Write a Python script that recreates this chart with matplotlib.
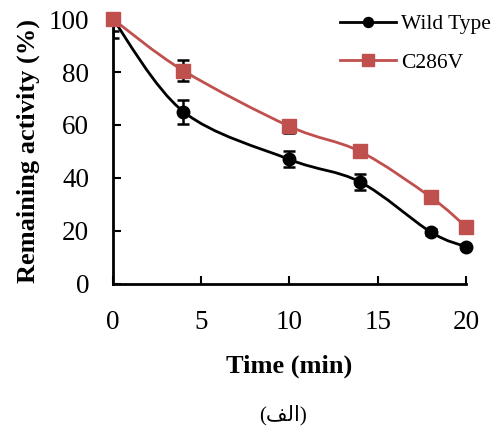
import numpy as np
import matplotlib.pyplot as plt
from matplotlib.path import Path
from matplotlib.patches import PathPatch

time_min = [0, 4, 10, 14, 18, 20]
wild_type = [100, 65, 47, 38.5, 19.6, 14]
wild_err = [7, 4.5, 3, 3, 1, 1]
c286v = [100, 80.5, 59.5, 50, 32.8, 21.6]
c286v_err = [4.5, 4, 2.5, 1.5, 1, 1]

red = '#C0504D'
plt.rcParams['font.family'] = ['Liberation Serif', 'DejaVu Sans']


def smooth_path(x, y):
    # excel-like smoothed line as cubic bezier segments (catmull-rom)
    x = np.asarray(x, float)
    y = np.asarray(y, float)
    verts = [(x[0], y[0])]
    codes = [Path.MOVETO]
    n = len(x)
    for i in range(n - 1):
        i0 = max(i - 1, 0)
        i3 = min(i + 2, n - 1)
        c1 = (x[i] + (x[i + 1] - x[i0]) / 6, y[i] + (y[i + 1] - y[i0]) / 6)
        c2 = (x[i + 1] - (x[i3] - x[i]) / 6, y[i + 1] - (y[i3] - y[i]) / 6)
        verts += [c1, c2, (x[i + 1], y[i + 1])]
        codes += [Path.CURVE4] * 3
    return Path(verts, codes)


fig = plt.figure(figsize=(4.93, 4.34), dpi=100)
ax = fig.add_axes([0.229, 0.346, 0.716, 0.610])

for ys, err, col, mk, ms, lab in [(wild_type, wild_err, 'black', 'o', 9, 'Wild Type'),
                                  (c286v, c286v_err, red, 's', 10, 'C286V')]:
    ax.add_patch(PathPatch(smooth_path(time_min, ys), fill=False, edgecolor=col, lw=2,
                           zorder=2, clip_on=False))
    ax.errorbar(time_min, ys, yerr=err, fmt='none', ecolor='black', elinewidth=1.8,
                capsize=4, capthick=1.8, zorder=3)
    ax.plot(time_min, ys, linestyle='none', marker=mk, color=col, markersize=ms,
            zorder=4, clip_on=False)
    ax.plot([], [], color=col, lw=2, marker=mk, markersize=ms * 0.8, label=lab)

ax.set_xlim(0, 20)
ax.set_ylim(0, 100)
ax.set_xticks([0, 5, 10, 15, 20])
ax.set_yticks([0, 20, 40, 60, 80, 100])
ax.spines['top'].set_visible(False)
ax.spines['right'].set_visible(False)
ax.spines['left'].set_linewidth(2)
ax.spines['bottom'].set_linewidth(2)
ax.tick_params(direction='in', length=6, width=1.5, labelsize=19.5)
ax.tick_params(axis='x', pad=19)
ax.tick_params(axis='y', pad=17)
ax.set_xlabel('Time (min)', fontsize=19, fontweight='bold', labelpad=14)
ax.set_ylabel('Remaining activity (%)', fontsize=19, fontweight='bold', labelpad=6)

fig.legend(loc='upper left', bbox_to_anchor=(0.65, 1.012), frameon=False, fontsize=15.5,
           handlelength=2.6, labelspacing=0.85, handletextpad=0.25)

fig.text(0.574, 0.044, '(\uFED2\uFEDF\uFE8D)', ha='center', va='center', fontsize=15)

fig.savefig('out.png', dpi=100)
